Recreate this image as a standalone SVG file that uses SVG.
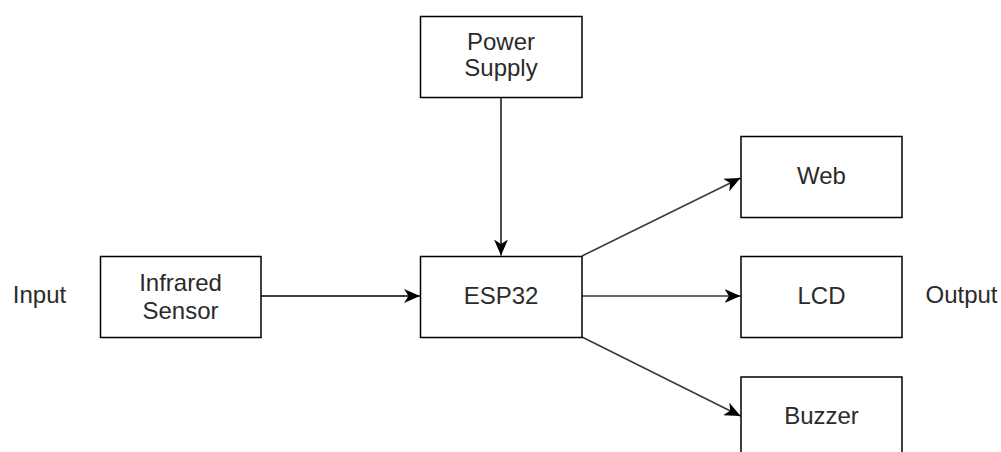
<svg xmlns="http://www.w3.org/2000/svg" width="1001" height="452" viewBox="0 0 1001 452">
<style>
.box{fill:#fff;stroke:#000;stroke-width:1.5}
.t{font-family:"Liberation Sans",Arial,Helvetica,sans-serif;font-size:24px;fill:#2b2b2b;text-anchor:middle}
.c{fill:none;stroke:#000;stroke-width:1.4}
.g{stroke:#3a3a3a;stroke-width:1.6}
</style>
<defs>
<marker id="arr" markerUnits="userSpaceOnUse" markerWidth="16" markerHeight="14" refX="16" refY="7" orient="auto" viewBox="0 0 16 14">
<path d="M16,7 L0,0 L4.5,7 L0,14 Z" fill="#000"/>
</marker>
</defs>
<rect width="1001" height="452" fill="#fff"/>
<g id="connectors">
<line class="c" x1="261" y1="296" x2="420" y2="296" marker-end="url(#arr)"/>
<line class="c" x1="501" y1="97" x2="501" y2="255.5" marker-end="url(#arr)"/>
<line class="c g" x1="582" y1="256" x2="740.5" y2="178" marker-end="url(#arr)"/>
<line class="c g" x1="582" y1="296" x2="740.5" y2="296" marker-end="url(#arr)"/>
<line class="c g" x1="582" y1="337" x2="740.5" y2="416" marker-end="url(#arr)"/>
</g>
<g id="power">
<rect class="box" x="420.5" y="16.5" width="161.5" height="81"/>
<text class="t" x="501" y="49.5">Power</text>
<text class="t" x="501" y="76">Supply</text>
</g>
<g id="infrared">
<rect class="box" x="100.5" y="256.5" width="160.5" height="81"/>
<text class="t" x="180.5" y="290.5">Infrared</text>
<text class="t" x="180.5" y="318.5">Sensor</text>
</g>
<g id="esp32">
<rect class="box" x="420.5" y="256.5" width="161.5" height="81"/>
<text class="t" x="501" y="303.5">ESP32</text>
</g>
<g id="web">
<rect class="box" x="741" y="136.5" width="161" height="81"/>
<text class="t" x="821.5" y="183.5">Web</text>
</g>
<g id="lcd">
<rect class="box" x="741" y="256.5" width="161" height="81"/>
<text class="t" x="821.5" y="303.5">LCD</text>
</g>
<g id="buzzer">
<rect class="box" x="741" y="377" width="161" height="81"/>
<text class="t" x="821.5" y="423.5">Buzzer</text>
</g>
<g id="input">
<text class="t" x="39.5" y="303">Input</text>
</g>
<g id="output">
<text class="t" x="961.5" y="303">Output</text>
</g>
</svg>
